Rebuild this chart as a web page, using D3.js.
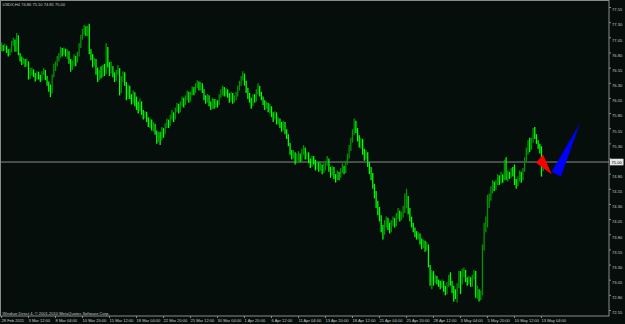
<!DOCTYPE html>
<html>
<head>
<meta charset="utf-8">
<script src="https://cdn.jsdelivr.net/npm/d3@7"></script>
<style>
  body { margin: 0; background: #060e0c; }
  svg { display: block; }
  text { font-family: "Liberation Sans", Arial, sans-serif; }
</style>
</head>
<body>
<div id="chart"></div>
<script>
// USDX H4
const title = "USDX,H4 74.86 75.10 74.85 75.00";
const footer = "Windsor Direct 4, \u00a9 2001-2010 MetaQuotes Software Corp.";
const firstOpen = 76.85;
const lastPrice = 75.00;

const closes = [
  76.90,76.86,76.92,76.84,76.78,76.83,76.95,77.00,76.84,77.08,76.78,76.70,76.66,76.69,76.62,76.64,
  76.40,76.45,76.52,76.44,76.38,76.46,76.40,76.36,76.45,76.50,76.38,76.30,76.20,76.15,76.42,76.55,
  76.62,76.70,76.76,76.84,76.80,76.86,76.78,76.82,76.66,76.58,76.62,76.72,76.66,76.78,76.92,77.05,
  77.15,77.22,77.12,77.20,76.82,76.74,76.62,76.68,76.52,76.40,76.48,76.42,76.55,76.48,76.85,76.62,
  76.50,76.56,76.44,76.38,76.46,76.52,76.20,76.36,76.44,76.30,76.10,76.22,76.08,76.00,76.12,76.02,
  75.94,75.88,75.98,75.82,75.74,75.80,75.70,75.62,75.68,75.56,75.60,75.50,75.38,75.46,75.40,75.52,
  75.48,75.58,75.66,75.62,75.74,75.80,75.72,75.86,75.92,75.84,75.95,76.02,75.96,76.06,76.12,76.04,
  76.12,76.20,76.16,76.26,76.30,76.22,76.28,76.18,76.06,76.00,76.08,75.96,75.92,76.02,75.94,75.98,
  75.96,76.08,76.14,76.20,76.12,76.18,76.10,76.04,76.12,76.00,76.06,76.10,76.22,76.30,76.38,76.44,
  76.30,76.18,76.10,76.02,75.96,76.08,76.04,76.16,76.22,76.12,76.06,75.98,75.92,75.96,75.86,75.90,
  75.78,75.72,75.80,75.66,75.70,75.62,75.56,75.64,75.50,75.44,75.30,75.18,75.10,75.14,75.02,75.08,
  75.12,75.04,75.16,75.20,75.08,75.12,75.02,74.96,75.06,75.00,74.92,74.98,74.90,74.94,74.86,74.92,
  74.96,75.04,74.88,74.82,74.90,74.78,74.74,74.82,74.76,74.86,74.92,74.84,74.98,75.10,75.22,75.34,
  75.46,75.60,75.52,75.40,75.28,75.34,75.18,75.08,75.14,74.96,74.86,74.78,74.60,74.48,74.30,74.20,
  74.08,73.90,73.82,73.96,74.02,73.94,73.88,73.98,74.04,73.96,74.10,74.16,74.08,74.12,74.20,74.30,
  74.40,74.20,74.06,73.96,73.88,73.82,73.76,73.80,73.70,73.62,73.66,73.58,73.60,73.30,73.08,73.14,
  73.02,73.10,73.04,73.00,72.96,73.02,72.92,72.88,72.96,73.08,73.00,72.90,72.86,72.80,72.96,73.12,
  73.04,73.14,73.20,73.06,73.02,73.08,72.98,73.10,73.16,72.80,72.86,72.76,72.82,73.60,73.90,74.00,
  74.30,74.40,74.52,74.62,74.58,74.66,74.74,74.68,74.78,74.72,75.00,74.72,74.80,74.76,74.86,74.82,
  74.66,74.62,74.70,74.78,74.72,74.86,75.04,75.18,75.30,75.22,75.36,75.50,75.42,75.34,75.26,75.20,
  74.86,75.00
];
const highs = [
  76.97,76.93,76.95,76.92,76.86,76.87,77.00,77.05,77.02,77.13,77.09,76.80,76.74,76.72,76.70,76.71,
  76.66,76.55,76.56,76.53,76.47,76.50,76.49,76.44,76.50,76.55,76.52,76.42,76.33,76.28,76.45,76.62,
  76.66,76.75,76.80,76.90,76.88,76.89,76.87,76.86,76.83,76.70,76.68,76.78,76.75,76.82,76.96,77.10,
  77.20,77.26,77.24,77.25,77.28,76.86,76.78,76.72,76.70,76.56,76.52,76.58,76.60,76.62,76.96,76.90,
  76.65,76.66,76.58,76.48,76.52,76.60,76.55,76.42,76.50,76.48,76.32,76.28,76.26,76.12,76.18,76.15,
  76.08,76.00,76.05,76.00,75.86,75.84,75.83,75.74,75.72,75.70,75.66,75.63,75.52,75.50,75.50,75.58,
  75.56,75.64,75.72,75.70,75.78,75.86,75.82,75.90,75.98,75.96,76.00,76.08,76.06,76.10,76.18,76.16,
  76.16,76.25,76.24,76.30,76.35,76.33,76.32,76.30,76.20,76.10,76.12,76.10,76.00,76.06,76.04,76.04,
  76.02,76.12,76.20,76.26,76.24,76.22,76.20,76.14,76.16,76.14,76.10,76.16,76.26,76.34,76.42,76.50,
  76.46,76.34,76.22,76.14,76.06,76.12,76.12,76.20,76.30,76.26,76.16,76.08,76.02,76.00,75.98,75.96,
  75.92,75.82,75.84,75.82,75.74,75.72,75.66,75.68,75.66,75.54,75.46,75.32,75.20,75.20,75.16,75.14,
  75.18,75.14,75.22,75.28,75.24,75.16,75.16,75.06,75.10,75.10,75.04,75.02,75.00,75.00,74.96,74.98,
  75.02,75.10,75.06,74.92,74.94,74.92,74.80,74.86,74.84,74.90,74.98,74.94,75.02,75.14,75.28,75.40,
  75.54,75.72,75.68,75.56,75.44,75.40,75.38,75.22,75.20,75.16,75.00,74.92,74.82,74.64,74.52,74.36,
  74.26,74.12,73.96,74.04,74.10,74.08,74.00,74.04,74.10,74.08,74.16,74.24,74.20,74.18,74.28,74.48,
  74.56,74.44,74.24,74.10,74.00,73.92,73.86,73.84,73.82,73.74,73.72,73.70,73.68,73.64,73.30,73.22,
  73.20,73.14,73.12,73.06,73.04,73.06,73.04,72.96,73.02,73.14,73.18,73.04,72.96,72.90,73.00,73.20,
  73.20,73.24,73.26,73.22,73.10,73.12,73.10,73.14,73.22,73.20,72.96,72.90,72.88,73.64,74.00,74.10,
  74.46,74.48,74.60,74.70,74.68,74.70,74.80,74.78,74.84,74.80,75.04,75.08,74.86,74.84,74.90,74.92,
  74.96,74.72,74.76,74.86,74.84,74.90,75.08,75.24,75.36,75.40,75.40,75.56,75.58,75.46,75.36,75.30,
  75.26,75.10
];
const lows = [
  76.83,76.83,76.84,76.80,76.74,76.76,76.81,76.92,76.82,76.82,76.76,76.66,76.60,76.62,76.57,76.58,
  76.36,76.37,76.43,76.40,76.33,76.36,76.36,76.32,76.34,76.43,76.35,76.26,76.16,76.07,76.13,76.40,
  76.50,76.58,76.66,76.72,76.74,76.76,76.74,76.70,76.62,76.49,76.52,76.58,76.58,76.64,76.74,76.88,
  77.02,77.10,77.08,77.08,76.78,76.68,76.56,76.58,76.44,76.32,76.35,76.38,76.40,76.42,76.45,76.56,
  76.42,76.46,76.40,76.32,76.34,76.44,76.10,76.14,76.32,76.26,76.02,76.04,76.04,75.95,75.96,75.92,
  75.86,75.80,75.84,75.78,75.70,75.72,75.66,75.58,75.56,75.52,75.50,75.45,75.30,75.33,75.28,75.36,
  75.40,75.46,75.56,75.56,75.60,75.70,75.66,75.70,75.82,75.80,75.82,75.92,75.90,75.94,76.02,75.98,
  76.00,76.10,76.10,76.14,76.22,76.18,76.18,76.14,76.02,75.96,75.98,75.92,75.86,75.88,75.88,75.90,
  75.90,75.94,76.06,76.10,76.08,76.08,76.06,75.98,76.00,75.96,75.98,76.02,76.08,76.18,76.26,76.34,
  76.26,76.14,76.04,75.98,75.88,75.92,75.98,76.00,76.12,76.08,76.02,75.94,75.86,75.88,75.82,75.80,
  75.74,75.66,75.70,75.62,75.62,75.56,75.50,75.52,75.46,75.38,75.26,75.12,75.04,75.06,74.96,74.98,
  75.02,75.00,75.00,75.12,75.04,75.04,74.98,74.90,74.92,74.96,74.86,74.88,74.84,74.86,74.80,74.82,
  74.86,74.94,74.84,74.74,74.78,74.72,74.66,74.70,74.70,74.74,74.82,74.80,74.82,74.96,75.06,75.18,
  75.32,75.44,75.48,75.34,75.24,75.22,75.12,75.02,75.04,74.92,74.80,74.70,74.56,74.40,74.24,74.12,
  74.02,73.84,73.72,73.80,73.92,73.88,73.82,73.84,73.94,73.92,73.94,74.06,74.02,74.04,74.08,74.16,
  74.24,74.14,74.02,73.92,73.84,73.76,73.72,73.72,73.64,73.56,73.58,73.52,73.54,73.26,72.96,72.90,
  72.96,73.00,72.98,72.94,72.90,72.92,72.86,72.80,72.82,72.94,72.96,72.84,72.70,72.74,72.68,72.92,
  72.82,72.98,73.10,73.02,72.96,72.98,72.94,72.94,73.06,72.76,72.74,72.70,72.72,72.80,73.54,73.84,
  73.92,74.24,74.36,74.48,74.52,74.54,74.62,74.62,74.64,74.66,74.70,74.70,74.68,74.72,74.74,74.76,
  74.62,74.56,74.60,74.68,74.66,74.70,74.84,75.00,75.12,75.16,75.20,75.32,75.38,75.30,75.22,75.14,
  74.76,74.85
];

// one time label every 16 bars
const labelEvery = 16;
const timeLabels = ["28 Feb 2011","3 Mar 12:00","8 Mar 04:00","10 Mar 20:00","15 Mar 12:00",
  "18 Mar 04:00","22 Mar 20:00","25 Mar 12:00","30 Mar 04:00","1 Apr 20:00","6 Apr 12:00",
  "11 Apr 04:00","13 Apr 20:00","18 Apr 12:00","21 Apr 04:00","25 Apr 20:00","28 Apr 12:00",
  "3 May 04:00","5 May 20:00","10 May 12:00","13 May 04:00"];

const priceTicks = [77.55,77.30,77.05,76.80,76.55,76.30,76.05,75.80,75.55,75.30,75.05,
  74.80,74.55,74.30,74.05,73.80,73.55,73.30,73.05,72.80,72.55];

// triangle objects, [bar index, price]
const redTriangle = [[316.7,74.99],[321.0,75.12],[326.0,74.80]];
const blueTriangle = [[326.0,74.84],[342.8,75.64],[331.5,74.76]];

const width = 625, height = 324;
const plotRight = 609, plotBottom = 316;
const fontSize = "4.05px";

let svg = d3.select("#chart").append("svg")
            .attr("width", width)
            .attr("height", height);

svg.append("rect")
   .attr("width", width).attr("height", height)
   .attr("fill", "#060e0c");

let x = d3.scaleLinear().domain([0, closes.length - 1]).range([1.5, 543.2]);
let y = d3.scaleLinear().domain([72.55, 77.55]).range([310.5, 7.5]);

// build bars (open = previous close)
let bars = closes.map(function(c, i){
	let o = i == 0 ? firstOpen : closes[i-1];
	return {i: i, o: o, c: c,
	        h: Math.max(highs[i], o, c),
	        l: Math.min(lows[i], o, c)};
});

// frame
svg.append("rect")
   .attr("x", 0.5).attr("y", 0.5)
   .attr("width", plotRight - 0.5).attr("height", plotBottom - 0.5)
   .attr("fill", "none")
   .attr("stroke", "#8a8a8a")
   .attr("stroke-width", 1);

// bid line
svg.append("line")
   .attr("x1", 1).attr("x2", plotRight)
   .attr("y1", y(lastPrice)).attr("y2", y(lastPrice))
   .attr("stroke", "#8c8c8c")
   .attr("stroke-width", 1);

// bars
svg.append("g").selectAll("line").data(bars)
   .enter().append("line")
   .attr("x1", d => x(d.i)).attr("x2", d => x(d.i))
   .attr("y1", d => y(d.h)).attr("y2", d => y(d.l))
   .attr("stroke", d => d.c >= d.o ? "#009400" : "#00ff00")
   .attr("stroke-width", 1.3);

// triangles
let tri = d3.line().x(d => x(d[0])).y(d => y(d[1]));
svg.append("path").attr("d", tri(redTriangle) + "Z").attr("fill", "#ff0000");
svg.append("path").attr("d", tri(blueTriangle) + "Z").attr("fill", "#0000ff");

// price axis
let pa = svg.append("g");
pa.selectAll("line").data(priceTicks).enter().append("line")
  .attr("x1", plotRight).attr("x2", plotRight + 2)
  .attr("y1", d => y(d)).attr("y2", d => y(d))
  .attr("stroke", "#8a8a8a");
pa.selectAll("text").data(priceTicks.filter(d => Math.abs(y(d) - y(lastPrice)) > 6))
  .enter().append("text")
  .attr("x", 612)
  .attr("y", d => y(d) + 3.8)
  .attr("font-size", fontSize)
  .attr("fill", "#c8c8c8")
  .text(d => d.toFixed(2));

// current price box
svg.append("rect")
   .attr("x", 610).attr("y", y(lastPrice) - 3.3)
   .attr("width", 13.5).attr("height", 6.6)
   .attr("fill", "#e6e6e6");
svg.append("text")
   .attr("x", 611.6).attr("y", y(lastPrice) + 1.5)
   .attr("font-size", fontSize)
   .attr("fill", "#000")
   .text(lastPrice.toFixed(2));

// time axis
let ta = svg.append("g");
ta.selectAll("line").data(timeLabels).enter().append("line")
  .attr("x1", (d, k) => x(k * labelEvery)).attr("x2", (d, k) => x(k * labelEvery))
  .attr("y1", plotBottom).attr("y2", plotBottom + 2)
  .attr("stroke", "#8a8a8a");
ta.selectAll("text").data(timeLabels).enter().append("text")
  .attr("x", (d, k) => x(k * labelEvery))
  .attr("y", 322.4)
  .attr("font-size", fontSize)
  .attr("fill", "#c8c8c8")
  .text(d => d);

// header and footer
svg.append("text").attr("x", 2.5).attr("y", 5.8)
   .attr("font-size", fontSize).attr("fill", "#c8c8c8")
   .text(title);
svg.append("text").attr("x", 2.5).attr("y", 314.8)
   .attr("font-size", fontSize).attr("fill", "#c8c8c8")
   .text(footer);
</script>
</body>
</html>
